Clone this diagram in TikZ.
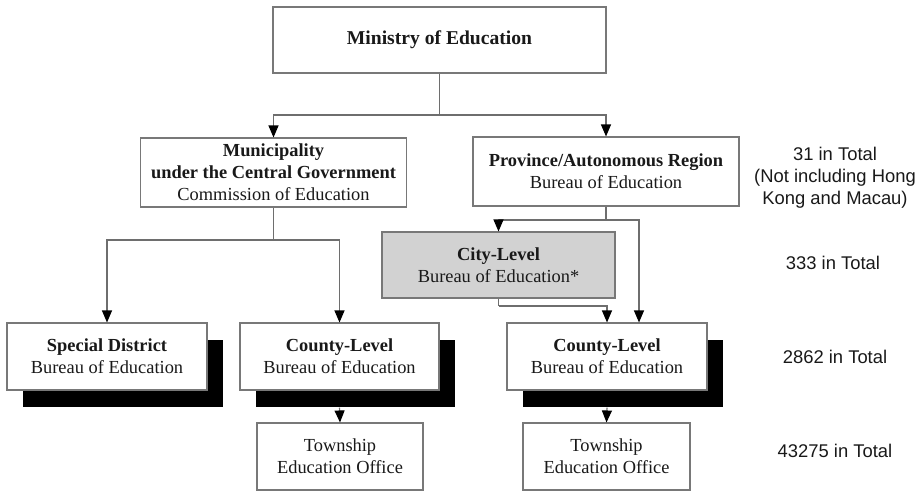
\documentclass[tikz,border=0pt]{standalone}
\usepackage{fontspec}
\setmainfont{Liberation Serif}
\newfontfamily\sansf{Liberation Sans}
\usetikzlibrary{arrows.meta,shadows,positioning}
\definecolor{linegray}{RGB}{110,110,110}
\definecolor{boxgray}{RGB}{120,120,120}
\definecolor{cityfill}{RGB}{210,210,210}
\definecolor{txt}{RGB}{25,25,25}
\begin{document}
\begin{tikzpicture}[x=1pt,y=-1pt,
  font=\fontsize{18.4}{22}\selectfont,
  box/.style={draw=boxgray,line width=1.1pt,fill=white,inner sep=0pt,align=center,text=txt,minimum height=#1},
  box/.default=69pt,
  shad/.style={drop shadow={shadow xshift=16pt,shadow yshift=-17pt,fill=black,opacity=1}},
  conn/.style={draw=linegray,line width=1.1pt},
  arr/.style={conn,-{Triangle[width=10pt,length=12pt,fill=black,color=black]}},
  lbl/.style={font=\sansf\fontsize{18.4}{22}\selectfont,align=center,text=txt,inner sep=0pt}
]
\useasboundingbox (0,0) rectangle (920,491);

\node[box=66pt,minimum width=333pt,font=\fontsize{19.6}{22}\selectfont] (min) at (439.5,40) {\textbf{Ministry of Education}};
\node[box=69pt,minimum width=266pt] (muni) at (273.5,172.5) {\textbf{Municipality}\\\textbf{under the Central Government}\\Commission of Education};
\node[box=69pt,minimum width=266pt] (prov) at (606,171.5) {\textbf{Province/Autonomous Region}\\Bureau of Education};
\node[box=66pt,minimum width=233pt,fill=cityfill] (city) at (498.5,265) {\textbf{City-Level}\\Bureau of Education*};
\node[box=67pt,minimum width=200pt,shad] (spec) at (107,356.5) {\textbf{Special District}\\Bureau of Education};
\node[box=67pt,minimum width=199pt,shad] (cntL) at (339.5,356.5) {\textbf{County-Level}\\Bureau of Education};
\node[box=67pt,minimum width=200pt,shad] (cntR) at (607,356.5) {\textbf{County-Level}\\Bureau of Education};
\node[box=67pt,minimum width=166pt] (twL) at (340,456.5) {Township\\Education Office};
\node[box=67pt,minimum width=167pt] (twR) at (606.5,456.5) {Township\\Education Office};

\node[lbl] (l1) at (835,178) {31 in Total\\(Not including Hong\\Kong and Macau)};
\node[lbl] (l2) at (833,263) {333 in Total};
\node[lbl] (l3) at (835,357) {2862 in Total};
\node[lbl] (l4) at (835,451) {43275 in Total};

% connectors
\draw[conn] (min.south) -- (439.5,115) coordinate (j1);
\draw[arr] (j1) -| (muni.north);
\draw[arr] (j1) -| (prov.north);

\draw[conn] (muni.south) -- (273.5,240) coordinate (j2);
\draw[arr] (j2) -| (spec.north);
\draw[arr] (j2) -| (cntL.north);

\draw[conn] (prov.south) -- (606,220) coordinate (j3);
\draw[arr] (j3) -| (city.north);
\draw[arr] (j3) -| ([xshift=32pt]cntR.north);

\draw[conn] (city.south) -- (498.5,306) coordinate (j4);
\draw[arr] (j4) -| (cntR.north);

\draw[arr] ([yshift=-17pt]cntL.south) -- (twL.north);
\draw[arr] ([yshift=-17pt]cntR.south) -- (twR.north);
\end{tikzpicture}
\end{document}
